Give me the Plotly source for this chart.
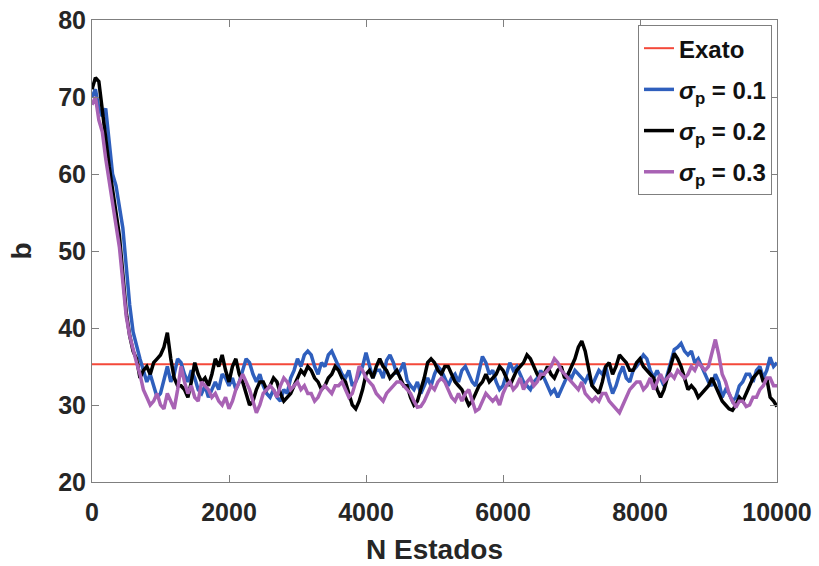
import plotly.graph_objects as go

# Number of states, sampled every 50 steps
n_states = list(range(0, 10001, 50))

# Exact value of b
b_exact = 35.3

# Chain trace for sigma_p = 0.1
b_sigma_01 = [
    70, 71, 68.5, 67.5, 68.5, 64, 60, 58.5, 56, 53, 48, 43, 39.5, 37.5, 36, 34.5, 33, 34, 32.5, 31,
    31.5, 33.5, 35, 33, 34, 36, 35.5, 34, 33, 34.5, 33.5, 32, 31.5, 32.5, 31, 32, 33, 32, 34, 33.5,
    32.5, 33.5, 32, 33, 34.5, 36, 35.5, 34, 33, 34, 32.5, 31.5, 31, 32, 31, 30.5, 32, 31.5, 33.5, 34.5,
    36, 35, 36.5, 37, 36.5, 35, 34, 35.5, 35, 36.5, 37, 36, 35, 34, 33.5, 34.5, 32.5, 33, 34, 35,
    36.8, 35, 33.5, 34.5, 34.5, 33.5, 35.8, 36.5, 35.5, 34, 34.5, 35.5, 33.2, 32.5, 32, 33, 31.5, 32.5, 33.5, 32.5,
    34, 35, 34.5, 33.5, 32.5, 33.5, 34, 33, 34.5, 35, 34, 33, 32.5, 34.5, 36.3, 35.5, 34, 34.5, 33, 32,
    32.5, 34, 35.5, 34.5, 35, 34, 33, 32.5, 32, 33, 33.5, 34.5, 33.5, 32.5, 31.5, 32, 31, 32, 33, 34,
    33.5, 34.5, 34, 33.5, 33, 34, 32.5, 33.5, 34.5, 34, 35, 33, 31.5, 32.5, 34, 35, 33.5, 33, 34.5, 35,
    35.8, 36.5, 36, 34.5, 33.5, 34.5, 33.5, 32.5, 34, 35.5, 37.2, 37.5, 38, 37, 36.5, 37, 35.5, 36, 35, 34,
    33, 32.5, 34, 33, 31, 32, 31.5, 30.5, 31, 32.5, 33, 34, 34, 33, 34.5, 35, 33.5, 34.5, 36.2, 35,
    35.5,
]

# Chain trace for sigma_p = 0.2
b_sigma_02 = [
    71, 72.5, 72, 68, 64, 61, 58, 55, 52, 47, 42, 39, 37, 36, 33.5, 34.5, 35, 34, 35.5, 36,
    36.5, 37.5, 39.4, 36, 33.5, 32.5, 32.5, 32, 31, 33, 35.5, 34, 33, 33.5, 32.5, 34, 36, 35, 36.5, 34.5,
    33, 35, 36, 34, 33, 31.5, 30, 30.5, 32, 33, 33, 32, 32.5, 33.5, 33, 31.5, 30.5, 31, 31.5, 32.5,
    33.5, 34.5, 34, 35, 34.5, 33.5, 33, 32, 32.5, 33.5, 34, 35, 34.5, 33.5, 33, 31.5, 30, 29.5, 30.5, 32,
    34, 34.5, 33.5, 35, 36, 35, 34.5, 33.5, 34, 34.5, 33.5, 32.5, 32.5, 31, 30, 30.5, 32, 33.5, 35.5, 36,
    35.5, 34.5, 34, 35, 35, 34, 33, 32.5, 32, 31, 30, 30.5, 31.5, 32.5, 33, 34, 33, 33.5, 34, 35,
    34.5, 33.5, 32.5, 33.5, 34.5, 35, 35.5, 36.5, 36, 35, 34, 33.5, 34, 35, 34, 33.5, 34.5, 35, 33.5, 34,
    35, 36, 37.5, 38.3, 37, 35, 32.5, 32, 31.5, 33, 35, 35.5, 34, 35, 36.5, 36, 35.5, 34.5, 34.5, 35.5,
    36, 35, 34.5, 34, 33.5, 32, 31, 32, 33.5, 35, 36.7, 36, 35, 33.5, 32, 32.5, 32, 31, 31.5, 32,
    32.5, 33.5, 32.5, 31.5, 30.5, 30, 29.5, 29.3, 30, 31, 30.5, 31.5, 32.5, 33.5, 34, 34.5, 33, 33.5, 31, 30.5,
    29.8,
]

# Chain trace for sigma_p = 0.3
b_sigma_03 = [
    69, 70, 67, 65.5, 62, 59, 56.5, 53.5, 50.5, 46, 41.5, 39, 37, 35.5, 34, 32, 31, 30, 30.5, 31.5,
    30, 29.5, 31.5, 30.5, 29.5, 32, 35, 33, 31.5, 32.5, 31, 30.5, 33, 32.5, 32, 31, 31.5, 30.5, 30, 31,
    29.5, 30.5, 32, 33, 34, 33, 32, 30.5, 29, 30, 31.5, 32, 32.5, 32, 31, 32.5, 33.5, 33, 32, 32.5,
    33, 32, 32.5, 31.5, 31.5, 30.5, 31, 32, 32.5, 32, 31.5, 32.5, 32.5, 33, 32, 31, 31.5, 33, 35, 34.5,
    33.5, 33, 32.5, 31.5, 31, 30.5, 31.5, 32, 32.5, 33, 33, 32.5, 32, 31.5, 30.5, 29.7, 29.8, 30.5, 31.5, 32.5,
    32, 33, 33.5, 33, 32, 31, 30.5, 31.5, 30.5, 31.5, 32, 30.5, 29.2, 29.5, 30.5, 31.5, 31, 30.5, 31, 30,
    31.5, 32.5, 33, 32, 32.5, 33.5, 32, 33, 33.5, 32.5, 33, 34, 34, 34.5, 35, 36, 35.5, 34.5, 34, 33.5,
    33, 32.5, 32, 33, 31.5, 31, 30.5, 31, 30.5, 31.5, 31.5, 30.5, 30, 29.5, 29, 30, 31, 32, 32.5, 33,
    33, 32, 32.5, 33.5, 32, 33, 34, 33, 33.5, 34, 33.5, 34.5, 34, 33.5, 34, 35, 34.5, 35.5, 35, 34.5,
    35, 37, 38.5, 36.5, 34, 33, 31.5, 30.5, 29.7, 30.5, 30.5, 29.8, 30, 31, 31, 32, 32.5, 33.5, 33.5, 32.5,
    32.5,
]

assert len(b_sigma_01) == len(b_sigma_02) == len(b_sigma_03) == len(n_states)

x_ticks = [0, 2000, 4000, 6000, 8000, 10000]
x_labels = ["0", "2000", "4000", "6000", "8000", "10000"]
y_ticks = [20, 30, 40, 50, 60, 70, 80]

font_family = "Liberation Sans, Arial, sans-serif"
axis_gray = "#7f7f7f"
text_color = "#262626"

fig = go.Figure()

fig.add_trace(go.Scatter(
    x=[n_states[0], n_states[-1]], y=[b_exact, b_exact],
    mode="lines", name="Exato", legendgroup="g0",
    line=dict(color="#F4493A", width=2),
))
series = [
    (b_sigma_01, "0.1", "#2F5FBD"),
    (b_sigma_02, "0.2", "#000000"),
    (b_sigma_03, "0.3", "#A862B4"),
]
for i, (vals, sig, color) in enumerate(series, start=1):
    fig.add_trace(go.Scatter(
        x=n_states, y=vals, mode="lines",
        name=f"<i>σ</i><sub>p</sub> = {sig}", legendgroup=f"g{i}",
        line=dict(color=color, width=3.5),
    ))

axis_common = dict(
    showgrid=False, zeroline=False, automargin=False,
    showline=True, linecolor=axis_gray, linewidth=1,
    mirror="ticks", ticks="inside", ticklen=7, tickcolor=axis_gray,
    tickfont=dict(family=font_family, size=25, color=text_color, weight="bold"),
)

fig.update_layout(
    width=819, height=566,
    paper_bgcolor="white", plot_bgcolor="white",
    margin=dict(l=92, r=42, t=20, b=84),
    font=dict(family=font_family, color=text_color, weight="bold"),
    xaxis=dict(
        range=[0, 10000], tickvals=x_ticks, ticktext=x_labels, ticklabelstandoff=8,
        title=dict(text="N Estados", standoff=14,
                   font=dict(family=font_family, size=28, color=text_color, weight="bold")),
        **axis_common,
    ),
    yaxis=dict(
        range=[20, 80], tickvals=y_ticks,
        title=dict(text="b", standoff=18,
                   font=dict(family=font_family, size=28, color=text_color, weight="bold")),
        **axis_common,
    ),
    legend=dict(
        x=0.9927, y=0.989, xanchor="right", yanchor="top",
        bgcolor="white", bordercolor=axis_gray, borderwidth=1,
        font=dict(family=font_family, size=24, color="#111111", weight="bold"),
        tracegroupgap=7, entrywidth=128, entrywidthmode="pixels",
    ),
    showlegend=True,
)

fig.write_html("out.html")
